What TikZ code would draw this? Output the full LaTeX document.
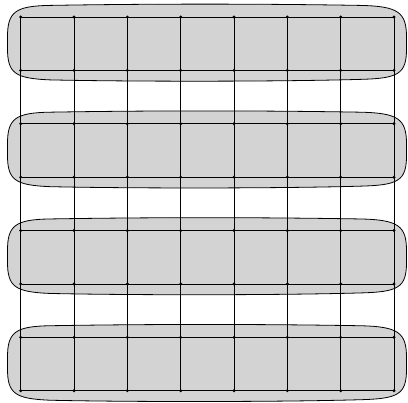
\documentclass[tikz,border=0pt]{standalone}
\definecolor{blobgray}{RGB}{211,211,211}
\begin{document}
\begin{tikzpicture}[x=1pt,y=-1pt,
  vtx/.style={circle,fill=black,inner sep=0pt,minimum size=3.2pt},
  gridedge/.style={line width=0.8pt,black,shorten <=-1pt,shorten >=-1pt},
  blob/.style={fill=blobgray,draw=black,line width=0.8pt}]
\useasboundingbox (0,0) rectangle (408,403);
\foreach \k in {0,...,3} {
  \pgfmathsetmacro\t{17+2*\k*53.39-13}
  \pgfmathsetmacro\b{\t+53.39+24}
  \draw[blob] (7.5,{\t+33}) .. controls (7.5,{\t+8}) and (15,{\t+2}) .. (50,{\t+1.4})
    .. controls (150,{\t-0.3}) and (260,{\t-0.3}) .. (360,{\t+1.4})
    .. controls (398,{\t+2.2}) and (406.5,{\t+8}) .. (406.5,{\t+33})
    -- (406.5,{\t+45})
    .. controls (406.5,{\b-7}) and (398,{\b-3}) .. (360,{\b-2})
    .. controls (280,{\b+0.3}) and (130,{\b+0.3}) .. (50,{\b-1.5})
    .. controls (15,{\b-3}) and (7.5,{\b-8}) .. (7.5,{\b-33}) -- cycle;
}
\foreach \i in {0,...,7}
  \foreach \j in {0,...,7}
    \node[vtx] (n\i\j) at ({20.7+53.33*\i},{17+53.39*\j}) {};
\foreach \j in {0,...,7}
  \foreach \i in {0,...,6} {
    \pgfmathtruncatemacro\ni{\i+1}
    \draw[gridedge] (n\i\j) -- (n\ni\j);
  }
\foreach \i in {0,...,7}
  \foreach \j in {0,...,6} {
    \pgfmathtruncatemacro\nj{\j+1}
    \draw[gridedge] (n\i\j) -- (n\i\nj);
  }
\end{tikzpicture}
\end{document}
